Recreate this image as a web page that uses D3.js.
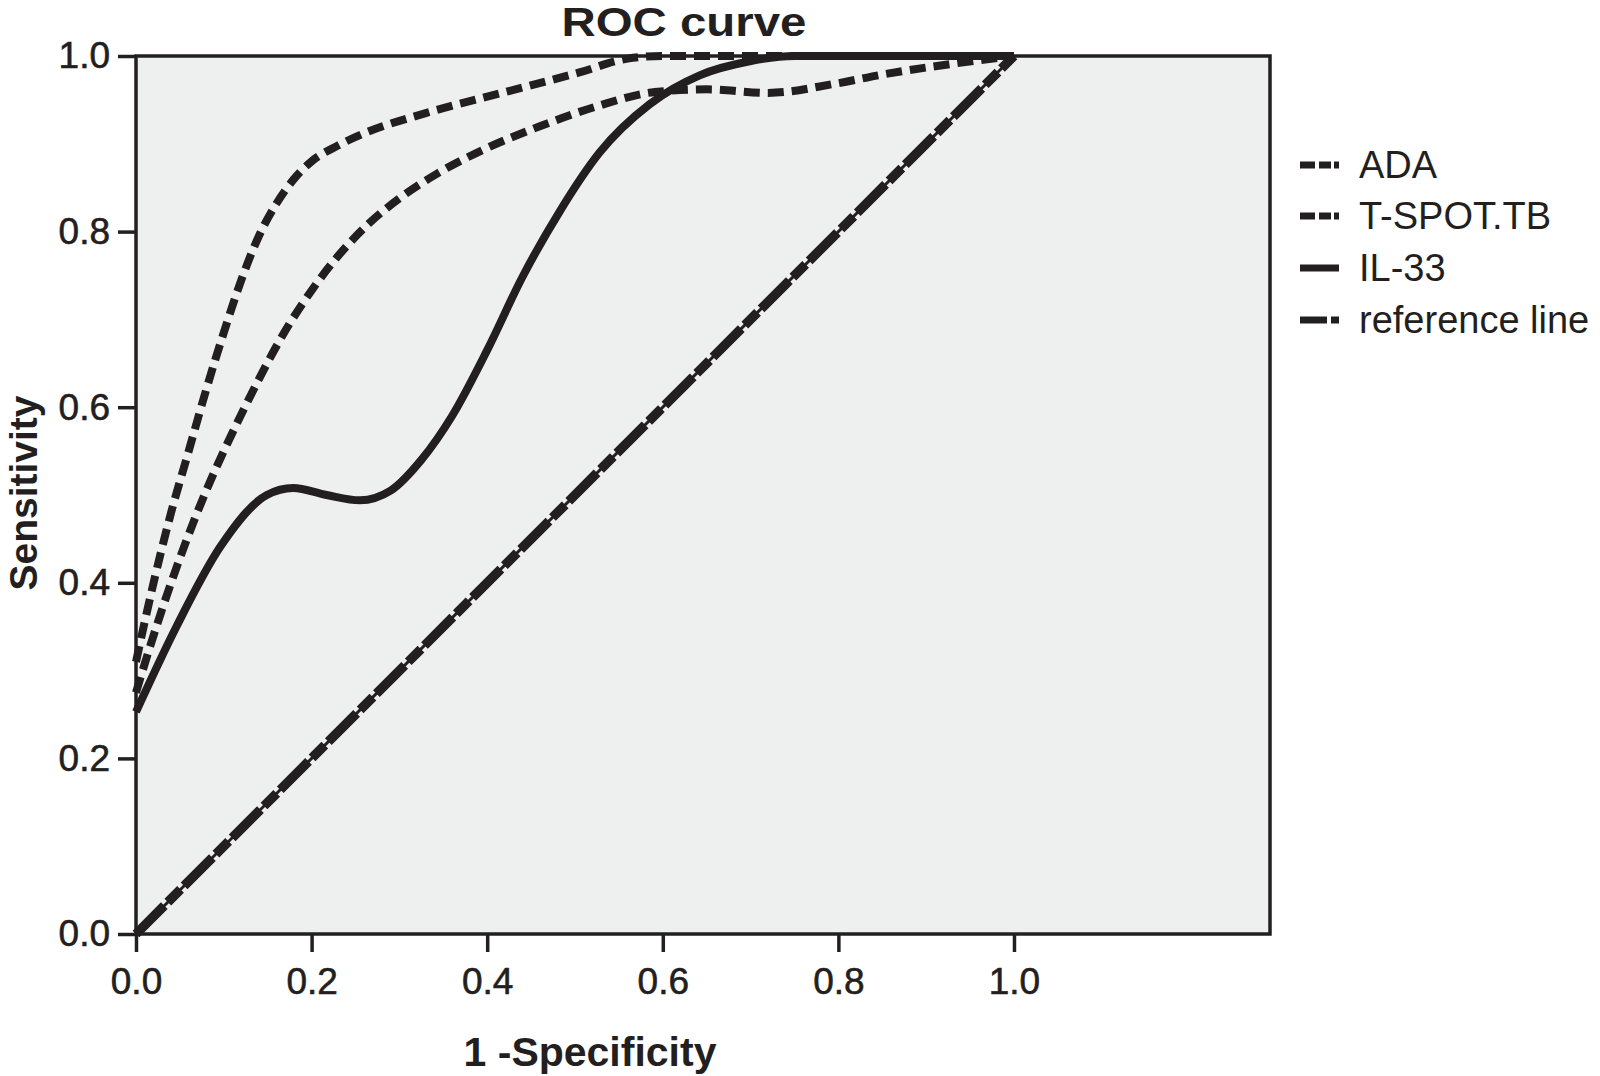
<!DOCTYPE html>
<html>
<head>
<meta charset="utf-8">
<script src="https://cdn.jsdelivr.net/npm/d3@7"></script>
<style>
  html, body { margin: 0; padding: 0; background: #ffffff; }
  svg { display: block; }
  text { font-family: "Liberation Sans", Arial, Helvetica, sans-serif; fill: #231f20; }
</style>
</head>
<body>
<svg id="chart" width="1600" height="1076"></svg>
<script>
// ---------------- data ----------------
const seriesNames = ["ADA", "T-SPOT.TB", "IL-33", "reference line"];

const adaX = [0, 0.02, 0.04, 0.06, 0.08, 0.10, 0.12, 0.14, 0.16, 0.18, 0.20, 0.23, 0.26, 0.33, 0.417, 0.504, 0.56, 0.60, 0.80, 1.0];
const adaY = [0.310, 0.400, 0.480, 0.550, 0.620, 0.685, 0.745, 0.795, 0.832, 0.860, 0.880, 0.898, 0.912, 0.935, 0.958, 0.981, 0.997, 1.0, 1.0, 1.0];

const tspotX = [0, 0.02, 0.04, 0.06, 0.08, 0.10, 0.12, 0.14, 0.17, 0.20, 0.23, 0.265, 0.303, 0.343, 0.395, 0.46, 0.526, 0.591, 0.65, 0.72, 0.794, 0.851, 0.908, 1.0];
const tspotY = [0.275, 0.340, 0.400, 0.455, 0.505, 0.550, 0.592, 0.632, 0.687, 0.733, 0.772, 0.809, 0.840, 0.866, 0.893, 0.920, 0.943, 0.959, 0.962, 0.958, 0.968, 0.979, 0.988, 1.0];

const il33X = [0, 0.046, 0.096, 0.149, 0.179, 0.217, 0.255, 0.290, 0.325, 0.360, 0.400, 0.440, 0.482, 0.528, 0.585, 0.642, 0.699, 0.750, 1.0];
const il33Y = [0.253, 0.350, 0.441, 0.500, 0.508, 0.500, 0.494, 0.505, 0.540, 0.590, 0.665, 0.748, 0.822, 0.890, 0.945, 0.978, 0.994, 1.0, 1.0];

const refX = [0, 1];
const refY = [0, 1];

const xTicks = [0, 0.2, 0.4, 0.6, 0.8, 1.0];
const yTicks = [0, 0.2, 0.4, 0.6, 0.8, 1.0];
const xTickLabels = ["0.0", "0.2", "0.4", "0.6", "0.8", "1.0"];
const yTickLabels = ["0.0", "0.2", "0.4", "0.6", "0.8", "1.0"];

// ---------------- layout ----------------
const ink = "#231f20";
const plotBg = "#eef0ef";
const pLeft = 136, pRight = 1270, pTop = 56, pBottom = 934;
const xMax = 1.2916;

const svg = d3.select("#chart");
const x = d3.scaleLinear().domain([0, xMax]).range([pLeft, pRight]);
const y = d3.scaleLinear().domain([0, 1]).range([pBottom, pTop]);

// plot background
svg.append("rect")
  .attr("x", pLeft).attr("y", pTop)
  .attr("width", pRight - pLeft).attr("height", pBottom - pTop)
  .attr("fill", plotBg);

// axes
const xAxis = d3.axisBottom(x).tickValues(xTicks)
  .tickFormat((d, i) => xTickLabels[i]).tickSize(18).tickPadding(16);
const gx = svg.append("g").attr("transform", `translate(0,${pBottom})`).call(xAxis);
gx.select(".domain").remove();
gx.selectAll(".tick line").attr("stroke", ink).attr("stroke-width", 3.5);
gx.selectAll(".tick text").attr("font-size", 37).attr("fill", ink)
  .attr("stroke", ink).attr("stroke-width", 0.6)
  .attr("font-family", '"Liberation Sans", Arial, sans-serif');

const yAxis = d3.axisLeft(y).tickValues(yTicks)
  .tickFormat((d, i) => yTickLabels[i]).tickSize(18).tickPadding(8);
const gy = svg.append("g").attr("transform", `translate(${pLeft},0)`).call(yAxis);
gy.select(".domain").remove();
gy.selectAll(".tick line").attr("stroke", ink).attr("stroke-width", 3.5);
gy.selectAll(".tick text").attr("font-size", 37).attr("fill", ink)
  .attr("stroke", ink).attr("stroke-width", 0.6)
  .attr("font-family", '"Liberation Sans", Arial, sans-serif');

// lines
const line = d3.line().x(d => x(d[0])).y(d => y(d[1])).curve(d3.curveMonotoneX);
const straight = d3.line().x(d => x(d[0])).y(d => y(d[1]));
const zip = (xs, ys) => xs.map((v, i) => [v, ys[i]]);

// reference line: thin solid + thick dash pattern
const refData = zip(refX, refY);
svg.append("path").attr("d", straight(refData))
  .attr("fill", "none").attr("stroke", ink).attr("stroke-width", 3);
svg.append("path").attr("d", straight(refData))
  .attr("fill", "none").attr("stroke", ink).attr("stroke-width", 9.5)
  .attr("stroke-dasharray", "40,5,18,5");

svg.append("path").attr("d", line(zip(il33X, il33Y)))
  .attr("fill", "none").attr("stroke", ink).attr("stroke-width", 8)
  .attr("stroke-linejoin", "round");

svg.append("path").attr("d", line(zip(tspotX, tspotY)))
  .attr("fill", "none").attr("stroke", ink).attr("stroke-width", 8)
  .attr("stroke-dasharray", "16,8");

svg.append("path").attr("d", line(zip(adaX, adaY)))
  .attr("fill", "none").attr("stroke", ink).attr("stroke-width", 8)
  .attr("stroke-dasharray", "16,8");

// frame
svg.append("rect")
  .attr("x", pLeft).attr("y", pTop)
  .attr("width", pRight - pLeft).attr("height", pBottom - pTop)
  .attr("fill", "none").attr("stroke", ink).attr("stroke-width", 3.5);

// title & axis labels
svg.append("text").attr("x", 684).attr("y", 36)
  .attr("text-anchor", "middle").attr("font-size", 40).attr("font-weight", "bold")
  .attr("textLength", 245).attr("lengthAdjust", "spacingAndGlyphs")
  .text("ROC curve");

svg.append("text").attr("x", 590).attr("y", 1066)
  .attr("text-anchor", "middle").attr("font-size", 41).attr("font-weight", "bold")
  .text("1 -Specificity");

svg.append("text")
  .attr("transform", "translate(37,493) rotate(-90)")
  .attr("text-anchor", "middle").attr("font-size", 39).attr("font-weight", "bold")
  .text("Sensitivity");

// legend
const legendDash = ["15,4,12,3,6", "15,4,12,3,6", null, "27,4,8"];
const legendY = [165, 216, 268, 320];
const lg = svg.append("g");
seriesNames.forEach((name, i) => {
  const row = lg.append("g").attr("transform", `translate(0,${legendY[i]})`);
  const l = row.append("line").attr("x1", 1300).attr("x2", 1339).attr("y1", 0).attr("y2", 0)
    .attr("stroke", ink).attr("stroke-width", 7);
  if (legendDash[i]) l.attr("stroke-dasharray", legendDash[i]);
  row.append("text").attr("x", 1359).attr("y", 13).attr("font-size", 38).text(name);
});
</script>
</body>
</html>
